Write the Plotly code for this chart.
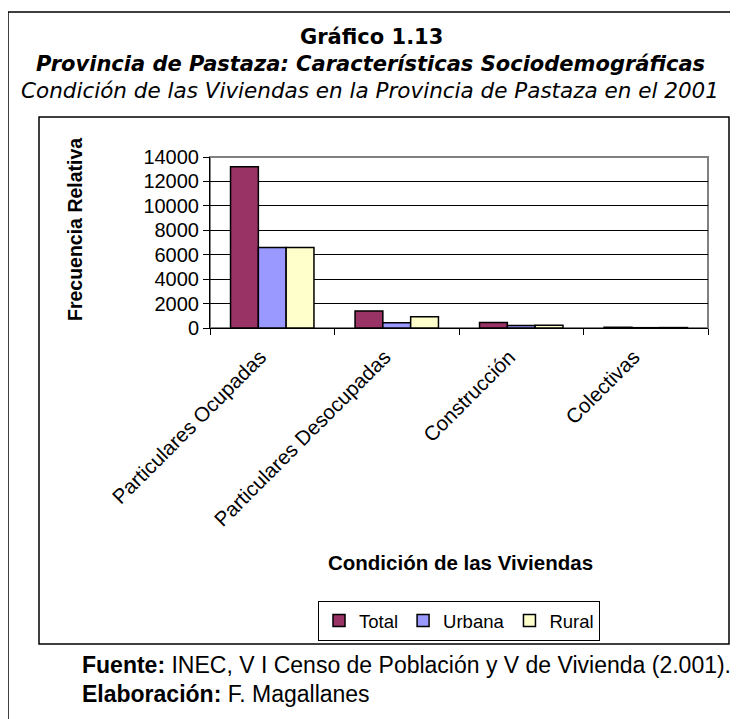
import plotly.graph_objects as go

# data
categorias = ["Particulares Ocupadas", "Particulares Desocupadas", "Construcción", "Colectivas"]
total = [13200, 1400, 450, 60]
urbana = [6600, 430, 200, 25]
rural = [6600, 920, 220, 35]

W, H = 738, 719
OFF = 8                              # page body margin shifts the figure by 8px
L, R, T, B = 210 - OFF, 30 + OFF, 157 - OFF, 391 + OFF   # plot area margins in px


def px(x):
    # screen pixel x -> paper x
    return (x - OFF - L) / (W - L - R)


def py(y):
    # screen pixel y -> paper y
    return (H - B - (y - OFF)) / (H - T - B)


font = "Liberation Sans, Arial, sans-serif"
wide = "DejaVu Sans, sans-serif"      # wider face for the stretched-looking titles
line = dict(color="black", width=1.5)

fig = go.Figure()
fig.add_trace(go.Bar(x=categorias, y=total, name="Total",
                     marker=dict(color="#993366", line=line)))
fig.add_trace(go.Bar(x=categorias, y=urbana, name="Urbana",
                     marker=dict(color="#9999FF", line=line)))
fig.add_trace(go.Bar(x=categorias, y=rural, name="Rural",
                     marker=dict(color="#FFFFCC", line=line)))

fig.update_layout(
    width=W, height=H,
    margin=dict(l=L, r=R, t=T, b=B, autoexpand=False),
    paper_bgcolor="white", plot_bgcolor="white",
    font=dict(family=font, color="black", size=20),
    barmode="group", bargap=0.33, bargroupgap=0,
    legend=dict(orientation="h", x=px(459), y=py(601), xanchor="center", yanchor="top",
                bordercolor="black", borderwidth=1, font=dict(size=18.5),
                itemwidth=30, tracegroupgap=0),
)

fig.update_xaxes(showline=True, linecolor="black", linewidth=1,
                 ticks="outside", tickson="boundaries", ticklen=6, tickcolor="black",
                 tickangle=-45, tickfont=dict(size=20.5), ticklabelshift=-12,
                 ticklabelstandoff=8)
fig.update_yaxes(range=[0, 14000], dtick=2000, tickformat="d",
                 showline=True, linecolor="black", linewidth=1,
                 ticks="outside", ticklen=6, tickcolor="black",
                 showgrid=True, gridcolor="black", gridwidth=1, zeroline=False,
                 tickfont=dict(size=20))

# plot area border (gray top/right like Excel)
fig.add_shape(type="rect", xref="paper", yref="paper", x0=0, x1=1, y0=0, y1=1,
              line=dict(color="#808080", width=2), layer="below")

# outer frame and chart frame
fig.add_shape(type="rect", xref="paper", yref="paper",
              x0=px(8), x1=px(735), y0=py(760), y1=py(12),
              line=dict(color="black", width=1.5))
fig.add_shape(type="rect", xref="paper", yref="paper",
              x0=px(39), x1=px(729), y0=py(644), y1=py(117),
              line=dict(color="black", width=1.5))


def text(x, y, s, size, xanchor="center", angle=0, family=font):
    fig.add_annotation(xref="paper", yref="paper", x=px(x), y=py(y), text=s,
                       showarrow=False, xanchor=xanchor, yanchor="middle",
                       textangle=angle, font=dict(size=size, family=family, color="black"))


text(371, 37, "<b>Gráfico 1.13</b>", 21, family=wide)
text(370, 64, "<b><i>Provincia de Pastaza: Características Sociodemográficas</i></b>", 21, family=wide)
text(370, 91, "<i>Condición de las Viviendas en la Provincia de Pastaza en el 2001</i>", 21.5, family=wide)
text(460, 562, "<b>Condición de las Viviendas</b>", 20.5)
text(75, 230, "<b>Frecuencia Relativa</b>", 19.5, angle=-90)
text(80, 665, "<b>Fuente:</b> INEC, V I Censo de Población y V de Vivienda (2.001).", 23, xanchor="left")
text(80, 694, "<b>Elaboración:</b> F. Magallanes", 23, xanchor="left")

fig.write_html("out.html")
